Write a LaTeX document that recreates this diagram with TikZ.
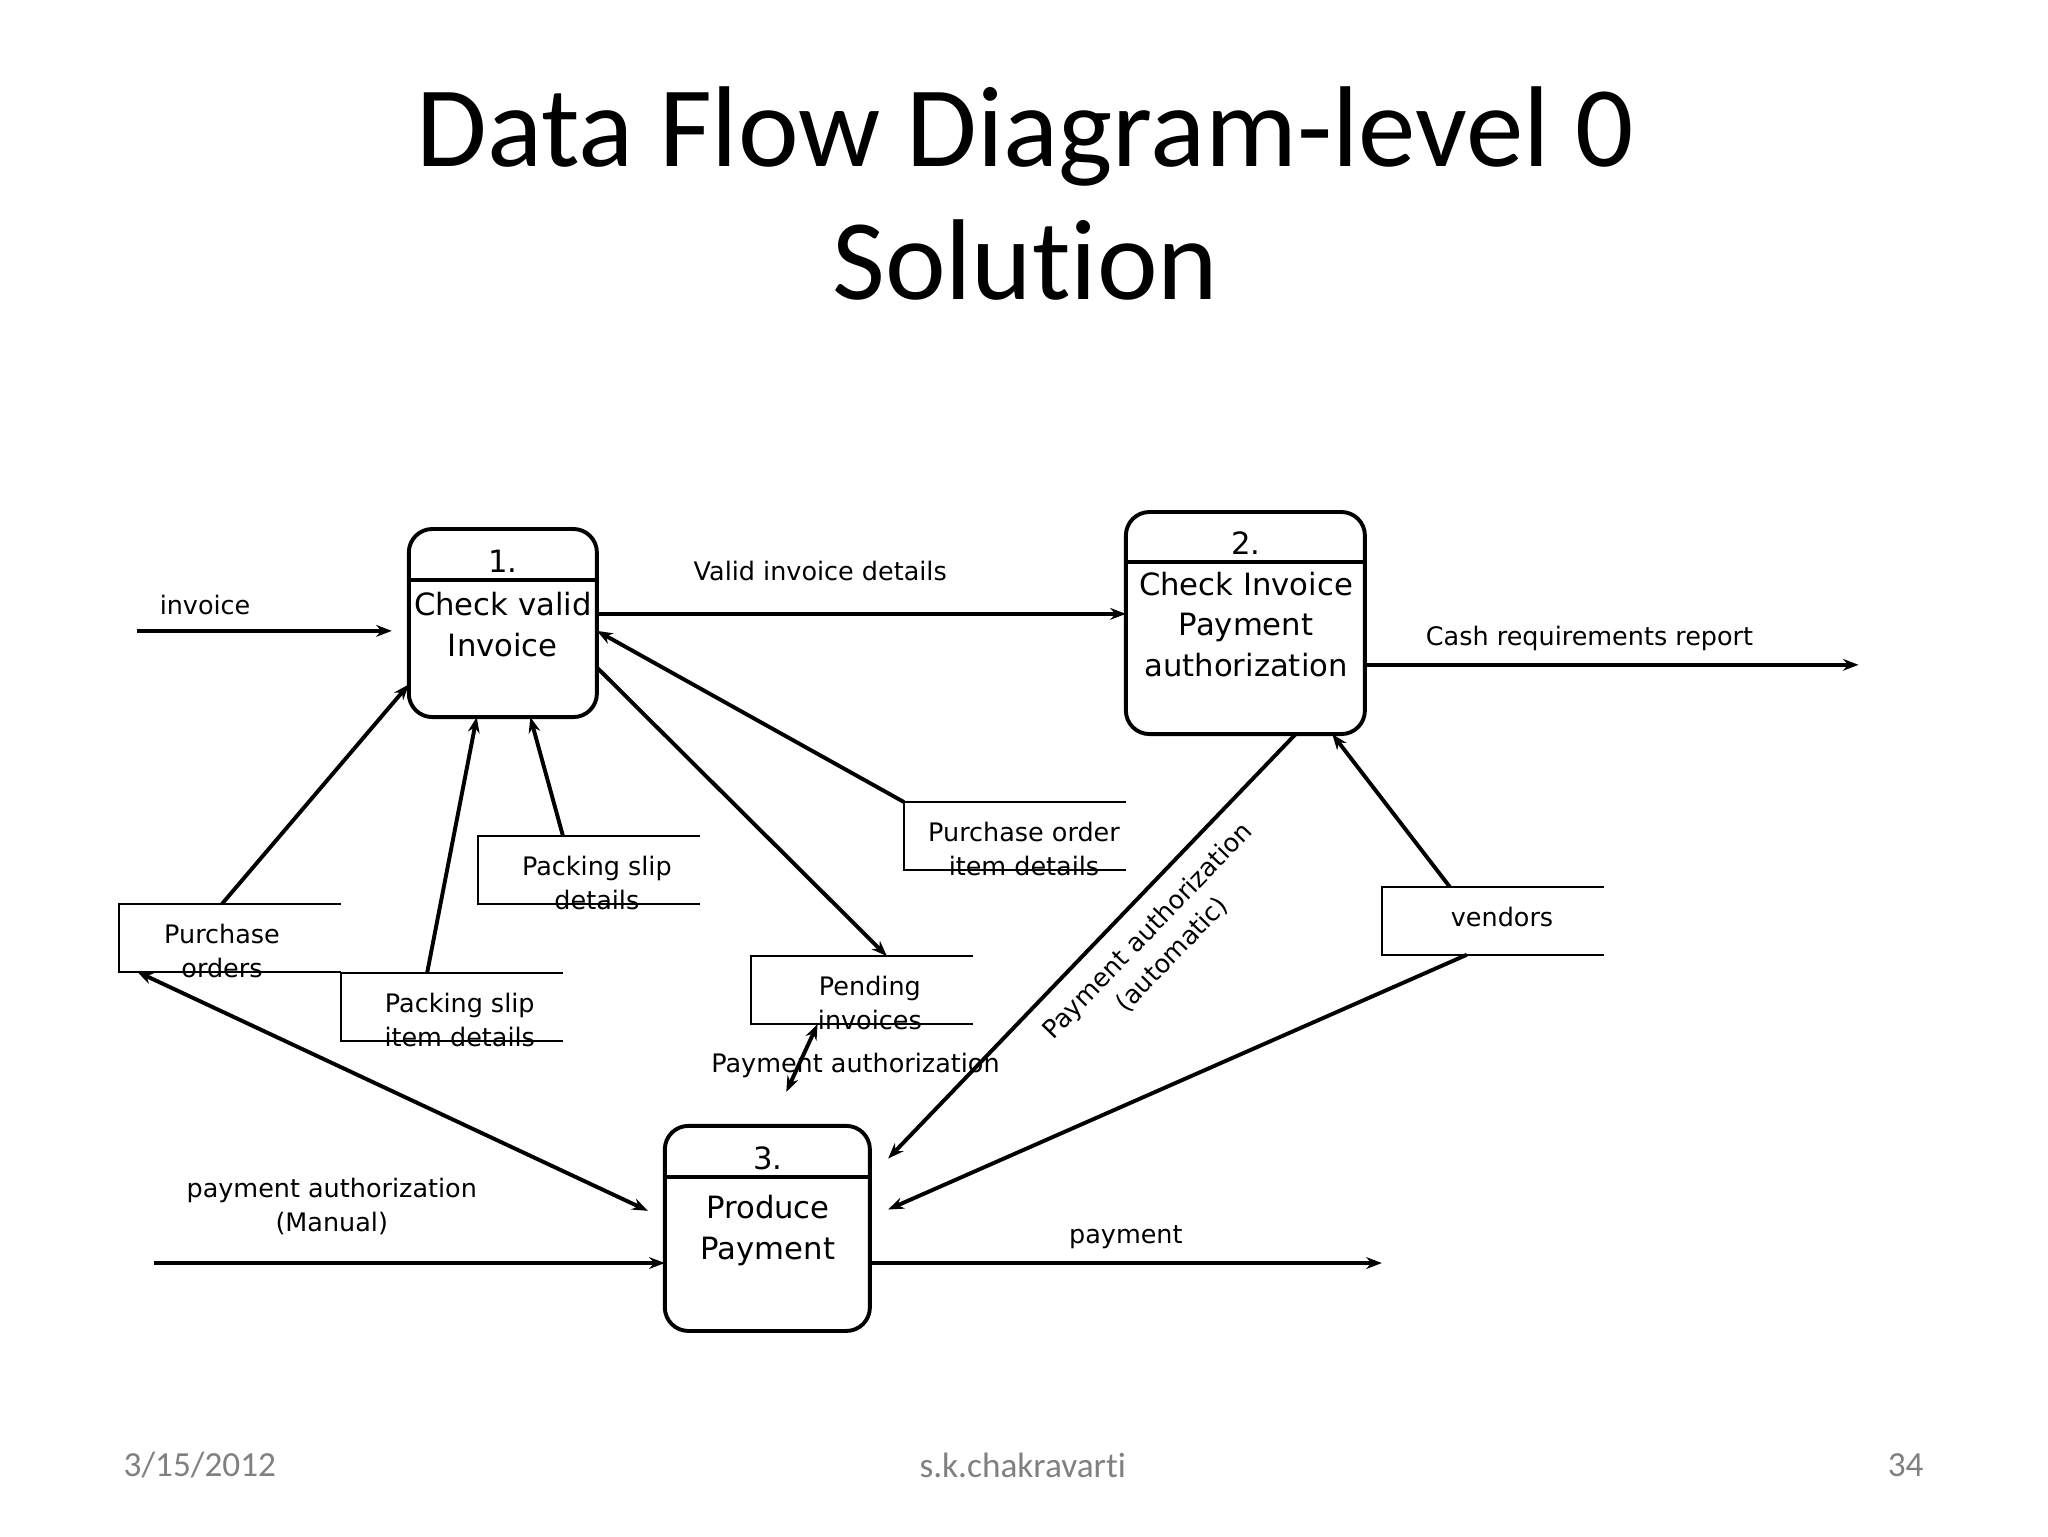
\documentclass[tikz,border=0pt]{standalone}
\usepackage{fontspec}
\setmainfont{DejaVu Sans}
\newfontfamily\titlefont[Ligatures=NoCommon]{Carlito}
\usetikzlibrary{arrows.meta}
\begin{document}
\begin{tikzpicture}[x=1pt,y=-1pt,
  fl/.style={line width=3pt,-{Stealth[length=12pt,width=9pt]}},
  fl2/.style={line width=3pt,{Stealth[length=12pt,width=9pt]}-{Stealth[length=12pt,width=9pt]}},
  proc/.style={draw,line width=3pt,rounded corners=18pt},
  ds/.style={line width=1.2pt},
  lab/.style={font=\fontsize{19.5}{26}\selectfont,align=center,inner sep=0pt},
  ptxt/.style={font=\fontsize{23.5}{31}\selectfont,align=center,inner sep=0pt}]
\useasboundingbox (0,0) rectangle (1568,1176);
\node[font=\titlefont\fontsize{88}{102}\selectfont,align=center] (title) at (785,148) {Data Flow Diagram-level 0\\Solution};
% processes
\draw[proc] (313,405) rectangle (457,549); \draw[line width=3pt] (313,444)--(457,444);
\node[ptxt] (n1) at (385,430) {1.}; \node[ptxt] (t1) at (385,478) {Check valid\\Invoice};
\draw[proc] (862,392) rectangle (1045,562); \draw[line width=3pt] (862,430)--(1045,430);
\node[ptxt] (n2) at (954,416) {2.}; \node[ptxt] (t2) at (954,478) {Check Invoice\\Payment\\authorization};
\draw[proc] (509,862) rectangle (666,1019); \draw[line width=3pt] (509,901)--(666,901);
\node[ptxt] (n3) at (588,887) {3.}; \node[ptxt] (t3) at (588,942) {Produce\\Payment};
% data stores
\foreach \x/\y/\dx/\nm/\t in {91/692/79/po/{Purchase\\orders},261/745/91/psi/{Packing slip\\item details},366/640/91/psd/{Packing slip\\details},692/614/92/poi/{Purchase order\\item details},575/732/91/pi/{Pending\\invoices}}{
  \draw[ds] (\x+170,\y)--(\x,\y)--(\x,\y+52)--(\x+170,\y+52);
  \node[lab] (\nm) at (\x+\dx,\y+36) {\t};
}
\draw[ds] (1228,679)--(1058,679)--(1058,731)--(1228,731);
\node[lab] (ven) at (1150,702) {vendors};
% coordinates
\foreach \n/\p in {a/{105,483},b/{300,483},c/{457,470},d/{862,470},e/{1045,509},f/{1423,509},
 g/{170,692},h/{313,524},i/{327,745},j/{365,549},k/{431,640},l/{406,549},m/{692,614},o/{457,483},
 p/{457,511},q/{679,732},r/{105,744},s/{496,927},u/{626,784},v/{602,836},w/{992,562},z/{680,887},
 aa/{1110,679},ab/{1020,562},ac/{1123,731},ad/{680,926},ae/{118,967},af/{509,967},ag/{666,967},ah/{1058,967}}
 {\coordinate (\n) at (\p);}
\draw[fl] (a)--(b); \draw[fl] (c)--(d); \draw[fl] (e)--(f);
\draw[fl] (g)--(h); \draw[fl] (i)--(j); \draw[fl] (k)--(l); \draw[fl] (m)--(o);
\draw[fl] (p)--(q); \draw[fl2] (r)--(s); \draw[fl2] (u)--(v);
\draw[fl] (w)--(z); \draw[fl] (aa)--(ab); \draw[fl] (ac)--(ad);
\draw[fl] (ae)--(af); \draw[fl] (ag)--(ah);
% labels
\node[lab] (l1) at (157,463) {invoice};
\node[lab] (l2) at (628,437) {Valid invoice details};
\node[lab] (l3) at (1217,489) {Cash requirements report};
\node[lab] (l4) at (655,816) {Payment authorization};
\node[lab,rotate=46] (l5) at (888,722) {Payment authorization\\(automatic)};
\node[lab] (l6) at (254,924) {payment authorization\\(Manual)};
\node[lab] (l7) at (862,947) {payment};
% footer
\node[font=\titlefont\fontsize{27}{30}\selectfont,text=gray] (f1) at (153,1122) {3/15/2012};
\node[font=\titlefont\fontsize{27}{30}\selectfont,text=gray] (f2) at (783,1122) {s.k.chakravarti};
\node[font=\titlefont\fontsize{27}{30}\selectfont,text=gray] (f3) at (1459,1122) {34};
\end{tikzpicture}
\end{document}
